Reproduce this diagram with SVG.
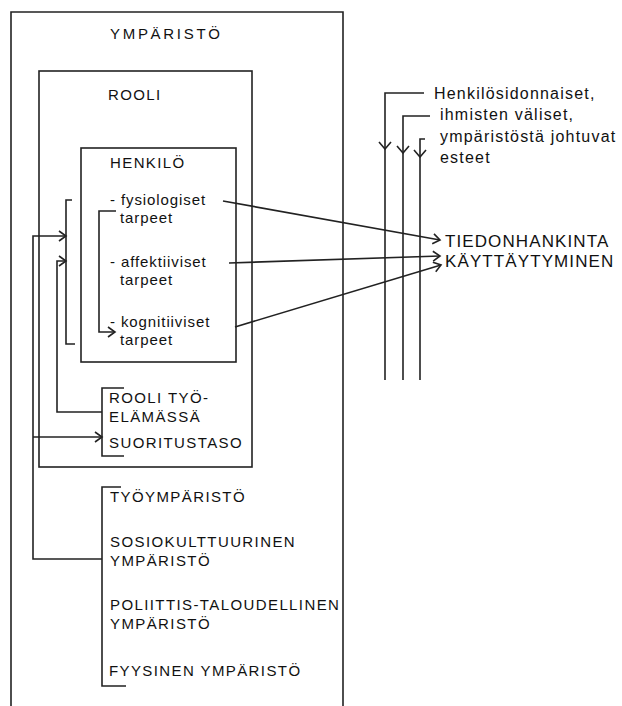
<svg xmlns="http://www.w3.org/2000/svg" width="622" height="706" viewBox="0 0 622 706">
<defs>
<marker id="chev" markerUnits="userSpaceOnUse" markerWidth="12" markerHeight="12" refX="9" refY="6" orient="auto" viewBox="0 0 12 12">
<path d="M2,1 L9,6 L2,11" fill="none" stroke="#222" stroke-width="1.6"/>
</marker>
<style>
.ln{fill:none;stroke:#222;stroke-width:1.6}
.cap{font-family:"Liberation Sans",Arial,sans-serif;font-size:15px;letter-spacing:1.4px;fill:#111}
.low{font-family:"Liberation Sans",Arial,sans-serif;font-size:15px;letter-spacing:0.9px;fill:#111}
.big{font-family:"Liberation Sans",Arial,sans-serif;font-size:17px;letter-spacing:1.1px;fill:#111}
.bar{font-family:"Liberation Sans",Arial,sans-serif;font-size:16px;letter-spacing:1.2px;fill:#111}
</style>
</defs>
<rect width="622" height="706" fill="#fff"/>
<g id="ymparisto">
<path class="ln" d="M11,706 V12 H343 V706"/>
<text class="cap" x="110" y="39" style="letter-spacing:2.7px">YMPÄRISTÖ</text>
</g>
<g id="rooli">
<rect class="ln" x="39" y="71" width="213" height="396"/>
<text class="cap" x="108" y="100">ROOLI</text>
</g>
<g id="henkilo">
<rect class="ln" x="81" y="148" width="155" height="214"/>
<text class="cap" x="110" y="168">HENKILÖ</text>
<text class="low" x="110" y="205">- fysiologiset</text>
<text class="low" x="120" y="223">tarpeet</text>
<text class="low" x="110" y="267">- affektiiviset</text>
<text class="low" x="120" y="285">tarpeet</text>
<text class="low" x="110" y="327">- kognitiiviset</text>
<text class="low" x="120" y="345">tarpeet</text>
</g>
<g id="rooli-tyoelamassa">
<path class="ln" d="M124,388 H102 V456 H124"/>
<text class="cap" x="109" y="403">ROOLI TYÖ-</text>
<text class="cap" x="109" y="422">ELÄMÄSSÄ</text>
<text class="cap" x="109" y="448">SUORITUSTASO</text>
</g>
<g id="ympäristötekijät">
<path class="ln" d="M121,487 H102 V686 H126"/>
<text class="cap" x="110" y="502">TYÖYMPÄRISTÖ</text>
<text class="cap" x="110" y="547">SOSIOKULTTUURINEN</text>
<text class="cap" x="110" y="566">YMPÄRISTÖ</text>
<text class="cap" x="110" y="610">POLIITTIS-TALOUDELLINEN</text>
<text class="cap" x="110" y="629">YMPÄRISTÖ</text>
<text class="cap" x="109" y="676">FYYSINEN YMPÄRISTÖ</text>
</g>
<g id="esteet">
<text class="bar" x="434" y="99">Henkilösidonnaiset,</text>
<text class="bar" x="440" y="120">ihmisten väliset,</text>
<text class="bar" x="440" y="142">ympäristöstä johtuvat</text>
<text class="bar" x="440" y="163">esteet</text>
</g>
<g id="tiedonhankinta">
<text class="big" x="445" y="247">TIEDONHANKINTA</text>
<text class="big" x="445" y="267">KÄYTTÄYTYMINEN</text>
</g>
<g id="connectors">
<!-- bracket around needs -->
<path class="ln" d="M72,200 H66 V344 H75"/>
<path class="ln" d="M116,211 H99 V332 H115" marker-end="url(#chev)"/>
<!-- feedback arrows -->
<path class="ln" d="M102,559 H33 V236 H66" marker-end="url(#chev)"/>
<path class="ln" d="M102,412 H57 V261 H66" marker-end="url(#chev)"/>
<path class="ln" d="M33,437 H102" marker-end="url(#chev)"/>
<!-- needs to behaviour -->
<path class="ln" d="M223,201 L440,240" marker-end="url(#chev)"/>
<path class="ln" d="M229,263 L440,256" marker-end="url(#chev)"/>
<path class="ln" d="M235,327 L441,265" marker-end="url(#chev)"/>
<!-- barrier lines -->
<path class="ln" d="M424,93 H385 V380"/>
<path class="ln" d="M430,116 H403 V380"/>
<path class="ln" d="M425,139 H420 V380"/>
<path class="ln" d="M379,142 L385,149 L391,142"/>
<path class="ln" d="M397,146 L403,153 L409,146"/>
<path class="ln" d="M414,150 L420,157 L426,150"/>
</g>
</svg>
